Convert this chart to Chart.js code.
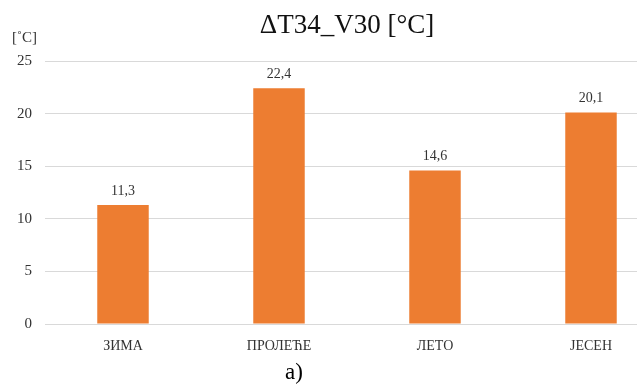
<!DOCTYPE html>
<html>
<head>
<meta charset="utf-8">
<script src="https://cdn.jsdelivr.net/npm/chart.js@4/dist/chart.umd.min.js"></script>
<style>
  html, body { margin: 0; padding: 0; background: #fff; }
  #wrap { width: 637px; height: 387px; overflow: hidden; position: relative; }
  canvas { display: block; }
</style>
</head>
<body>
<div id="wrap"><canvas id="myChart" width="680" height="387"></canvas></div>
<script>
const seasons = ['ЗИМА', 'ПРОЛЕЋЕ', 'ЛЕТО', 'ЈЕСЕН'];
const deltaT = [11.3, 22.4, 14.6, 20.1];
const yMax = 25;
const yStep = 5;

const titleText = 'ΔT34_V30 [°C]';
const unitText = '[˚C]';
const captionText = 'а)';

const serif = "'Liberation Serif', 'Times New Roman', serif";

// value labels over the bars plus title, unit and caption
const textPlugin = {
  id: 'textPlugin',
  afterDatasetsDraw(chart) {
    const ctx = chart.ctx;
    const meta = chart.getDatasetMeta(0);
    ctx.save();
    ctx.fillStyle = '#333';
    ctx.font = '14px ' + serif;
    ctx.textAlign = 'center';
    ctx.textBaseline = 'middle';
    meta.data.forEach((bar, i) => {
      const label = deltaT[i].toFixed(1).replace('.', ',');
      ctx.fillText(label, bar.x, bar.y - 14);
    });

    ctx.fillStyle = '#111';
    ctx.font = '27px ' + serif;
    ctx.textBaseline = 'alphabetic';
    ctx.fillText(titleText, 347, 33);

    ctx.fillStyle = '#333';
    ctx.font = '15px ' + serif;
    ctx.textAlign = 'left';
    ctx.fillText(unitText, 12, 42);

    ctx.fillStyle = '#000';
    ctx.font = '23px ' + serif;
    ctx.textAlign = 'center';
    ctx.fillText(captionText, 294, 379);
    ctx.restore();
  }
};

const data = {
  labels: seasons,
  datasets: [
    {
      data: deltaT,
      backgroundColor: '#ED7D31',
      barPercentage: 0.33,
      categoryPercentage: 1,
    },
  ],
};

const config = {
  type: 'bar',
  data: data,
  plugins: [textPlugin],
  options: {
    responsive: false,
    animation: false,
    layout: {
      padding: { top: 61, left: 14, right: 11, bottom: 0 },
    },
    plugins: {
      legend: { display: false },
      title: { display: false },
      tooltip: { enabled: false },
    },
    scales: {
      x: {
        grid: { display: false, drawTicks: false },
        border: { display: false },
        ticks: {
          color: '#333',
          padding: 14,
          font: { family: serif, size: 14 },
        },
        afterFit(scale) { scale.height = 63; },
      },
      y: {
        min: 0,
        max: yMax,
        grid: { color: '#d9d9d9', lineWidth: 1, drawTicks: false },
        border: { display: false },
        ticks: {
          stepSize: yStep,
          color: '#333',
          padding: 13,
          font: { family: serif, size: 15 },
        },
        afterFit(scale) { scale.width = 31; },
      },
    },
  },
};

var myChart = new Chart(document.getElementById('myChart'), config);
</script>
</body>
</html>
